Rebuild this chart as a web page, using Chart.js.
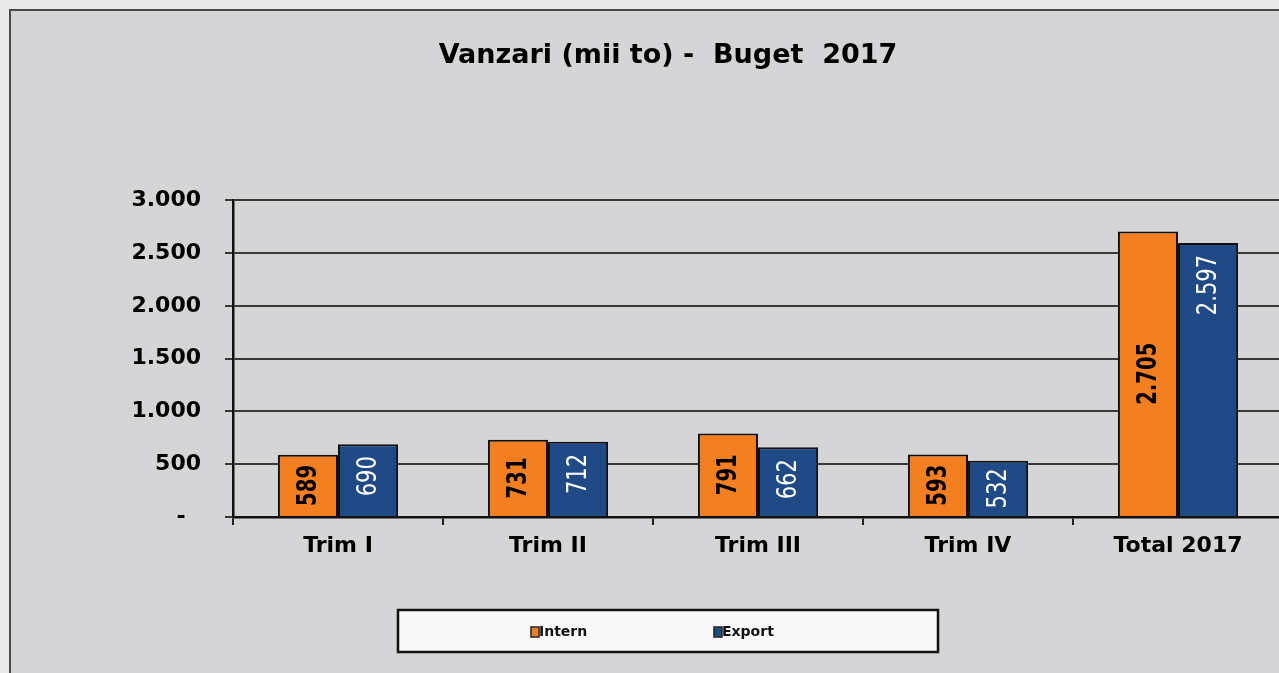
<!DOCTYPE html>
<html>
<head>
<meta charset="utf-8">
<script src="https://cdn.jsdelivr.net/npm/chart.js@4.4.1/dist/chart.umd.min.js"></script>
<style>
    html, body { margin: 0; padding: 0; }
    body { width: 1279px; height: 673px; overflow: hidden; background: #e9e9e9; position: relative; }
    #frame { position: absolute; left: 9px; top: 9px; width: 1400px; height: 700px; border: 2px solid #4a4a4a; background: #d5d5d7; }
    #chart { position: absolute; left: 10px; top: 0; }
</style>
</head>
<body>
<div id="frame"></div>
<canvas id="chart" width="1316" height="673"></canvas>
<script>
// ==== Data ====
const categories = ['Trim I', 'Trim II', 'Trim III', 'Trim IV', 'Total 2017'];
const internValues = [589, 731, 791, 593, 2705];
const exportValues = [690, 712, 662, 532, 2597];
const yTicks = [0, 500, 1000, 1500, 2000, 2500, 3000];
const chartTitle = 'Vanzari (mii to) -  Buget  2017';

// 2705 -> "2.705"
function formatNumber(v) {
    return String(v).replace(/\B(?=(\d{3})+(?!\d))/g, '.');
}

// values written vertically inside the bars
const barLabels = {
    id: 'barLabels',
    afterDatasetsDraw(chart) {
        const ctx = chart.ctx;
        chart.data.datasets.forEach((ds, i) => {
            const meta = chart.getDatasetMeta(i);
            meta.data.forEach((bar, j) => {
                const text = formatNumber(ds.data[j]);
                ctx.save();
                ctx.font = ds.labelFont;
                ctx.fillStyle = ds.labelColor;
                const w = ctx.measureText(text).width * ds.labelSqueeze;
                let cy = (bar.y + bar.base) / 2;
                if (ds.labelAnchor === 'end') {
                    cy = Math.min(bar.y + 12 + w / 2, cy);
                }
                ctx.translate(bar.x, cy);
                ctx.rotate(-Math.PI / 2);
                ctx.scale(ds.labelSqueeze, 1); // narrow lettering
                ctx.textAlign = 'center';
                ctx.textBaseline = 'middle';
                ctx.fillText(text, 0, 1);
                ctx.restore();
            });
        });
    }
};

// boxed legend under the chart
const boxLegend = {
    id: 'boxLegend',
    afterDraw(chart) {
        const ctx = chart.ctx;
        const box = { x: 388, y: 610, w: 540, h: 42 };
        ctx.save();
        ctx.fillStyle = '#f8f8f8';
        ctx.fillRect(box.x, box.y, box.w, box.h);
        ctx.lineWidth = 2.5;
        ctx.strokeStyle = '#111';
        ctx.strokeRect(box.x, box.y, box.w, box.h);
        const starts = [box.x + 133, box.x + 316];
        ctx.font = 'bold 14px "DejaVu Sans", sans-serif';
        ctx.textBaseline = 'middle';
        ctx.textAlign = 'left';
        chart.data.datasets.forEach((ds, i) => {
            const x = starts[i];
            const y = box.y + box.h / 2 + 1;
            ctx.fillStyle = ds.backgroundColor;
            ctx.fillRect(x, y - 5, 8, 10);
            ctx.lineWidth = 1.5;
            ctx.strokeStyle = '#222';
            ctx.strokeRect(x, y - 5, 8, 10);
            ctx.fillStyle = '#111';
            ctx.fillText(ds.label, x + 8, y);
        });
        ctx.restore();
    }
};

const ctx = document.getElementById('chart').getContext('2d');
new Chart(ctx, {
    type: 'bar',
    data: {
        labels: categories,
        datasets: [
            {
                label: 'Intern',
                data: internValues,
                backgroundColor: '#F37F20',
                borderColor: '#111',
                borderWidth: 2,
                labelFont: 'bold 26px "DejaVu Sans Condensed", sans-serif',
                labelColor: '#000',
                labelSqueeze: 0.84,
                labelAnchor: 'center'
            },
            {
                label: 'Export',
                data: exportValues,
                backgroundColor: '#1F4A85',
                borderColor: '#111',
                borderWidth: 2,
                labelFont: '26px "DejaVu Sans Condensed", sans-serif',
                labelColor: '#fff',
                labelSqueeze: 0.9,
                labelAnchor: 'end'
            }
        ]
    },
    options: {
        responsive: false,
        animation: false,
        categoryPercentage: 0.572,
        barPercentage: 1,
        layout: {
            padding: { top: 0, right: 43, bottom: 100, left: 43 }
        },
        scales: {
            x: {
                grid: {
                    drawOnChartArea: false,
                    drawTicks: true,
                    tickLength: 8,
                    color: '#222',
                    lineWidth: 2
                },
                border: { color: '#111', width: 2.5 },
                ticks: {
                    color: '#000',
                    padding: 8,
                    font: { family: '"DejaVu Sans", sans-serif', size: 22, weight: 'bold' }
                },
                afterFit: function (scale) { scale.height = 56; }
            },
            y: {
                min: 0,
                max: 3000,
                afterBuildTicks: function (scale) {
                    scale.ticks = yTicks.map(v => ({ value: v }));
                },
                grid: {
                    color: '#383838',
                    lineWidth: 2,
                    tickLength: 8
                },
                border: { color: '#111', width: 2.5 },
                ticks: {
                    color: '#000',
                    padding: 24,
                    font: { family: '"DejaVu Sans", sans-serif', size: 22, weight: 'bold' },
                    callback: function (v) { return v === 0 ? '-  ' : formatNumber(v); }
                },
                afterFit: function (scale) { scale.width = 180; }
            }
        },
        plugins: {
            legend: { display: false },
            tooltip: { enabled: false },
            title: {
                display: true,
                text: chartTitle,
                color: '#000',
                font: { family: '"DejaVu Sans", sans-serif', size: 27, weight: 'bold' },
                padding: { top: 40, bottom: 128 }
            }
        }
    },
    plugins: [barLabels, boxLegend]
});
</script>
</body>
</html>
